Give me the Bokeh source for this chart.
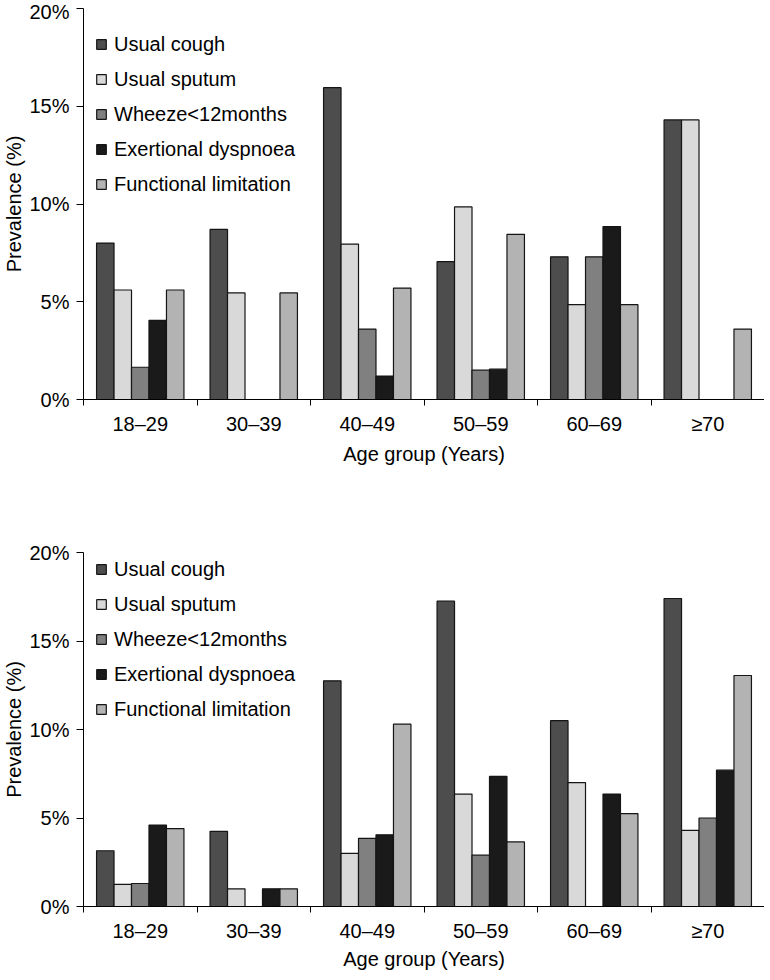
from bokeh.plotting import figure
from bokeh.models import Range1d, FixedTicker, Legend, LegendItem, ColumnDataSource, Title
from bokeh.layouts import column
from bokeh.transform import dodge
from bokeh.embed import file_html
from bokeh.resources import INLINE

categories = ["18–29", "30–39", "40–49", "50–59", "60–69", "≥70"]
series_names = ["Usual cough", "Usual sputum", "Wheeze<12months",
                "Exertional dyspnoea", "Functional limitation"]
colors = ["#4d4d4d", "#d9d9d9", "#808080", "#1a1a1a", "#b3b3b3"]
x_title = "Age group (Years)"
y_title = "Prevalence (%)"

# Top panel
cough_1 = [8.0, 8.7, 15.95, 7.05, 7.3, 14.3]
sputum_1 = [5.6, 5.45, 7.95, 9.85, 4.85, 14.3]
wheeze_1 = [1.65, 0, 3.6, 1.5, 7.3, 0]
dyspnoea_1 = [4.05, 0, 1.2, 1.55, 8.85, 0]
limitation_1 = [5.6, 5.45, 5.7, 8.45, 4.85, 3.6]

# Bottom panel
cough_2 = [3.15, 4.25, 12.75, 17.25, 10.5, 17.4]
sputum_2 = [1.25, 1.0, 3.0, 6.35, 7.0, 4.3]
wheeze_2 = [1.3, 0, 3.85, 2.9, 0, 5.0]
dyspnoea_2 = [4.6, 1.0, 4.05, 7.35, 6.35, 7.7]
limitation_2 = [4.4, 1.0, 10.3, 3.65, 5.25, 13.05]

y_ticks = [0, 5, 10, 15, 20]
y_tick_labels = ["0%", "5%", "10%", "15%", "20%"]
Y_MAX = 20

FONT = "Liberation Sans"
FS = "20px"
BAR_W = 0.154


def make_panel(series, height, border_top, border_bottom, legend_row1, title_standoff):
    n = len(categories)
    centers = [i + 0.5 for i in range(n)]
    bounds = list(range(n + 1))
    p = figure(width=764, height=height, output_backend="svg", toolbar_location=None,
               x_range=Range1d(0, n), y_range=Range1d(0, Y_MAX),
               min_border_left=79, min_border_right=0,
               min_border_top=border_top, min_border_bottom=border_bottom)
    p.outline_line_color = None
    p.xgrid.visible = False
    p.ygrid.visible = False

    data = {"x": centers}
    for k, s in enumerate(series):
        data[f"s{k}"] = s
    src = ColumnDataSource(data)

    items = []
    for k, name in enumerate(series_names):
        r = p.vbar(x=dodge("x", (k - 2) * BAR_W, range=p.x_range), top=f"s{k}", bottom=0,
                   width=BAR_W, source=src, fill_color=colors[k],
                   line_color="#151515", line_width=1.2)
        items.append(LegendItem(label=name, renderers=[r]))

    frame_h = height - border_top - border_bottom
    pad, lh, sp = 5, 24, 11
    legend_h = 2 * pad + 5 * lh + 4 * sp
    legend_top = legend_row1 - pad - lh // 2
    leg = Legend(items=items, location=(12, frame_h - legend_top - legend_h),
                 padding=pad, margin=0, spacing=sp, label_height=lh,
                 glyph_width=12, glyph_height=12, label_standoff=7,
                 border_line_color=None, background_fill_alpha=0,
                 label_text_font=FONT, label_text_font_size=FS, label_text_color="black")
    p.add_layout(leg)

    xa = p.xaxis[0]
    xa.ticker = FixedTicker(ticks=centers, minor_ticks=bounds)
    xa.major_label_overrides = {c: lab for c, lab in zip(centers, categories)}
    xa.major_tick_line_color = None
    xa.major_tick_in = 0
    xa.major_tick_out = 0
    xa.minor_tick_in = 0
    xa.minor_tick_out = 6
    xa.minor_tick_line_color = "black"
    xa.minor_tick_line_width = 1
    xa.axis_line_color = "black"
    xa.axis_line_width = 1
    xa.major_label_text_font = FONT
    xa.major_label_text_font_size = FS
    xa.major_label_text_color = "black"
    xa.major_label_standoff = 7

    # x-axis title as a compact title panel below the axis
    p.add_layout(Title(text=x_title, align="center", standoff=title_standoff,
                       text_font=FONT, text_font_size=FS, text_font_style="normal",
                       text_color="black"), "below")

    ya = p.yaxis[0]
    ya.ticker = FixedTicker(ticks=y_ticks, minor_ticks=[])
    ya.major_label_overrides = {t: lab for t, lab in zip(y_ticks, y_tick_labels)}
    ya.major_tick_in = 0
    ya.major_tick_out = 7
    ya.major_tick_line_color = "black"
    ya.minor_tick_line_color = None
    ya.axis_line_color = "black"
    ya.axis_line_width = 1
    ya.major_label_text_font = FONT
    ya.major_label_text_font_size = FS
    ya.major_label_text_color = "black"
    ya.major_label_standoff = 7
    ya.axis_label = y_title
    ya.axis_label_text_font = FONT
    ya.axis_label_text_font_size = FS
    ya.axis_label_text_font_style = "normal"
    ya.axis_label_text_color = "black"
    ya.axis_label_standoff = 1
    return p


p1 = make_panel([cough_1, sputum_1, wheeze_1, dyspnoea_1, limitation_1],
                height=469, border_top=8, border_bottom=70, legend_row1=31, title_standoff=6)
p2 = make_panel([cough_2, sputum_2, wheeze_2, dyspnoea_2, limitation_2],
                height=501, border_top=83, border_bottom=60, legend_row1=16, title_standoff=2)

layout = column(p1, p2, spacing=0)
open("out.html", "w").write(file_html(layout, INLINE))
